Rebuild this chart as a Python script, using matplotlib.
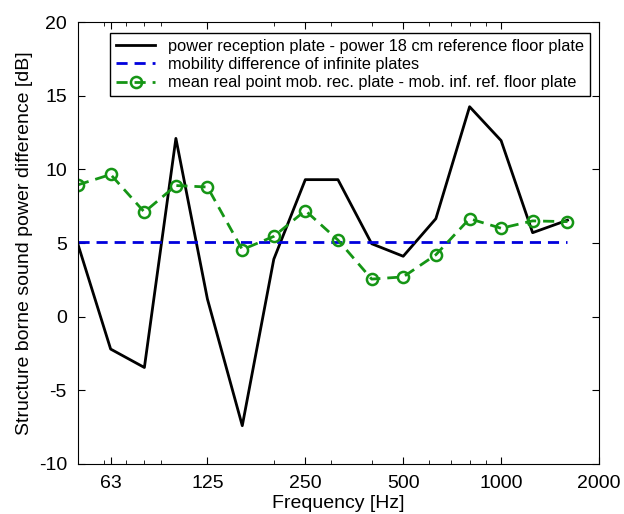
import numpy as np
import matplotlib.pyplot as plt
from matplotlib.ticker import FixedLocator, LogLocator, NullFormatter

plt.rcParams['font.family'] = ['Liberation Sans', 'DejaVu Sans']
plt.rcParams['axes.unicode_minus'] = False

# third-octave band centre frequencies [Hz]
freq = [50, 63, 80, 100, 125, 160, 200, 250, 315, 400, 500, 630, 800, 1000, 1250, 1600]

# power reception plate - power 18 cm reference floor plate
power_diff = [4.9, -2.2, -3.45, 12.1, 1.2, -7.4, 3.9, 9.3, 9.3, 4.95, 4.1, 6.65, 14.25, 11.95, 5.7, 6.55]
# mobility difference of infinite plates
mob_inf = [5.1] * len(freq)
# mean real point mob. rec. plate - mob. inf. ref. floor plate
mob_real = [8.95, 9.65, 7.1, 8.9, 8.8, 4.55, 5.45, 7.2, 5.2, 2.55, 2.7, 4.2, 6.65, 6.0, 6.5, 6.45]

xtick_vals = [63, 125, 250, 500, 1000, 2000]
xtick_labels = ['63', '125', '250', '500', '1000', '2000']

fig = plt.figure(figsize=(6.24, 5.14), dpi=100)
ax = fig.add_axes([78/624, 1 - 464/514, (599-78)/624, (464-22)/514])

ax.plot(freq, power_diff, color='black', linewidth=2.0,
        label='power reception plate - power 18 cm reference floor plate')
ax.plot(freq, mob_inf, color='#0000dd', linewidth=2.0, linestyle=(0, (4, 2.5)),
        label='mobility difference of infinite plates')
ax.plot(freq, mob_real, color='#159515', linewidth=2.0, linestyle=(0, (4, 2.5)),
        marker='o', markersize=8, markerfacecolor='none', markeredgewidth=1.8,
        label='mean real point mob. rec. plate - mob. inf. ref. floor plate')

ax.set_xscale('log')
ax.set_xlim(50, 2000)
ax.set_ylim(-10, 20)
ax.xaxis.set_major_locator(FixedLocator(xtick_vals))
ax.set_xticklabels(xtick_labels)
ax.xaxis.set_minor_locator(LogLocator(base=10, subs=np.arange(2, 10)))
ax.xaxis.set_minor_formatter(NullFormatter())
ax.set_yticks(np.arange(-10, 21, 5))

ax.tick_params(which='both', direction='in', top=True, right=True, labelsize=14)
ax.tick_params(which='major', length=5, pad=8)
ax.tick_params(which='minor', length=3)

ax.set_xlabel('Frequency [Hz]', fontsize=14, labelpad=2)
ax.set_ylabel('Structure borne sound power difference [dB]', fontsize=14, labelpad=4)

leg = ax.legend(loc='upper right', bbox_to_anchor=(0.983, 0.975), fontsize=11.8,
                fancybox=False, framealpha=1, edgecolor='black',
                handlelength=2.4, handletextpad=0.8, labelspacing=0.2,
                borderpad=0.35, borderaxespad=0.0)
leg.get_frame().set_linewidth(1.0)

fig.savefig('out.png', dpi=100)
